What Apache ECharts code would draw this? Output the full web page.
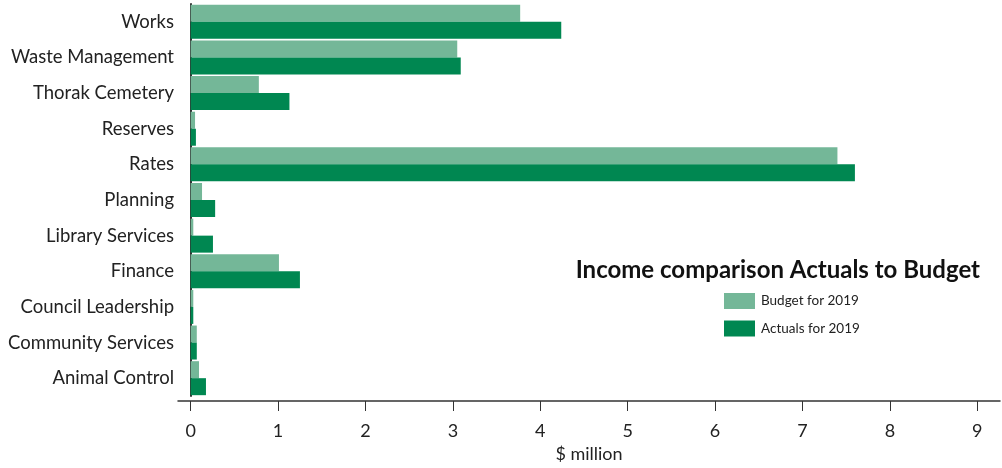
<!DOCTYPE html>
<html>
<head>
<meta charset="utf-8">
<script src="https://cdn.jsdelivr.net/npm/echarts@6/dist/echarts.min.js"></script>
<style>
html,body{margin:0;padding:0;background:#fff;}
#chart{width:1002px;height:468px;}
</style>
</head>
<body>
<div id="chart"></div>
<script>
const categories = ["Works","Waste Management","Thorak Cemetery","Reserves","Rates","Planning","Library Services","Finance","Council Leadership","Community Services","Animal Control"];
const budget2019 = [3.77, 3.05, 0.78, 0.05, 7.40, 0.13, 0.03, 1.01, 0.03, 0.07, 0.095];
const actuals2019 = [4.24, 3.09, 1.13, 0.06, 7.60, 0.28, 0.255, 1.25, 0.03, 0.07, 0.175];
const xTicks = [0,1,2,3,4,5,6,7,8,9];

const chart = echarts.init(document.getElementById('chart'), null, {renderer:'canvas'});
const font = 'Lato, "Open Sans", sans-serif';
chart.setOption({
  animation:false,
  textStyle:{fontFamily:font},
  title:{
    text:'Income comparison Actuals to Budget',
    right:17, top:253,
    textStyle:{fontFamily:font, fontSize:24, fontWeight:'bold', color:'#111'}
  },
  legend:{
    orient:'vertical', left:719, top:288,
    itemWidth:31, itemHeight:16, itemGap:11.5,
    icon:'rect',
    textStyle:{fontFamily:font, fontSize:13.5, color:'#222', padding:[0,0,0,1]},
    data:['Budget for 2019','Actuals for 2019']
  },
  grid:{left:178, right:2, top:4, bottom:66, containLabel:false},
  xAxis:{
    type:'value', min:-0.145, max:9.26, offset:5,
    name:'$ million', nameLocation:'middle', nameGap:44,
    nameTextStyle:{fontFamily:font, fontSize:18, color:'#222'},
    splitLine:{show:false},
    axisLine:{show:true, onZero:false, lineStyle:{color:'#333', width:1.5}},
    axisTick:{show:true, length:10, customValues:xTicks, lineStyle:{color:'#333'}},
    axisLabel:{customValues:xTicks, fontFamily:font, fontSize:18, color:'#222', margin:21}
  },
  yAxis:{
    type:'category', data:categories, inverse:true,
    axisLine:{show:true, onZero:true, lineStyle:{color:'#333', width:2}},
    axisTick:{show:false},
    axisLabel:{fontFamily:font, fontSize:18.5, color:'#222', margin:4, padding:[0,0,4,0]}
  },
  series:[
    {name:'Budget for 2019', type:'bar', data:budget2019, barWidth:17, barGap:'0%', itemStyle:{color:'#74B798'}},
    {name:'Actuals for 2019', type:'bar', data:actuals2019, barWidth:17, barGap:'0%', itemStyle:{color:'#008751'}}
  ]
});
</script>
</body>
</html>
